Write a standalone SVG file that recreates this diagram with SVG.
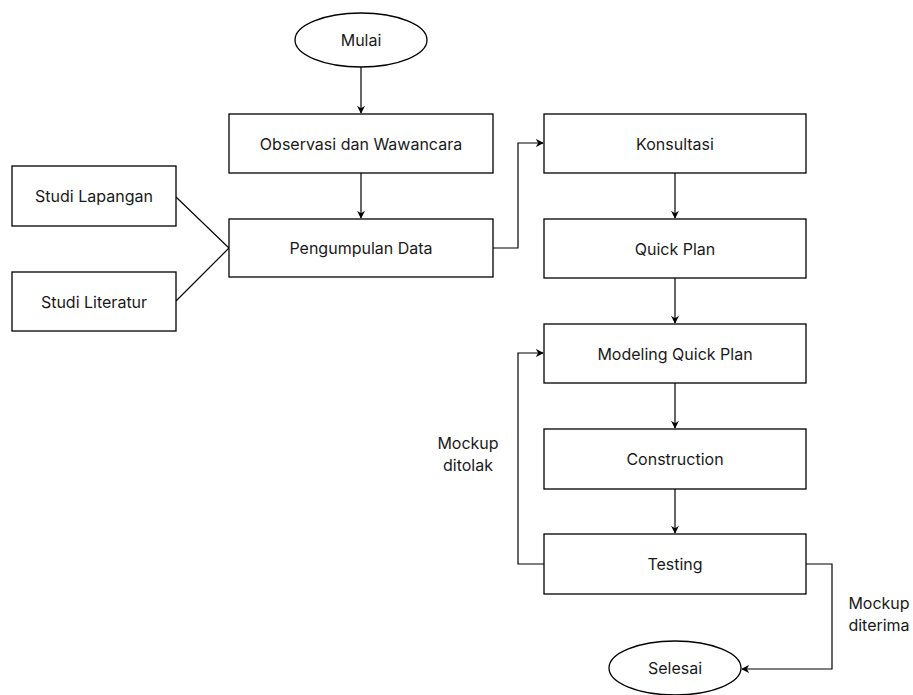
<svg xmlns="http://www.w3.org/2000/svg" width="913" height="695" viewBox="0 0 913 695">
<defs>
<style>
.n{fill:#fff;stroke:#000;stroke-width:1.3}
.t{font-family:Inter,"Liberation Sans",sans-serif;font-size:16px;fill:#1a1a1a;text-anchor:middle;dominant-baseline:central}
.c{fill:none;stroke:#000;stroke-width:1.2}
</style>
<marker id="a" viewBox="0 0 10 10" refX="9" refY="5" markerWidth="8" markerHeight="8" markerUnits="userSpaceOnUse" orient="auto"><path d="M0,0 L10,5 L0,10 L3,5 Z" fill="#000"/></marker>
</defs>
<rect width="913" height="695" fill="#fff"/>
<g id="connectors">
<path class="c" d="M361,67 V113" marker-end="url(#a)"/>
<path class="c" d="M361,173 V218" marker-end="url(#a)"/>
<path class="c" d="M176,197 L229,248 L176,301"/>
<path class="c" d="M493,248 H518 V143 H543" marker-end="url(#a)"/>
<path class="c" d="M675,173 V218" marker-end="url(#a)"/>
<path class="c" d="M675,278 V323" marker-end="url(#a)"/>
<path class="c" d="M675,383 V428" marker-end="url(#a)"/>
<path class="c" d="M675,489 V533" marker-end="url(#a)"/>
<path class="c" d="M544,564 H518 V353 H543" marker-end="url(#a)"/>
<path class="c" d="M806,564 H832 V669 H742" marker-end="url(#a)"/>
<text class="t" x="468" y="443">Mockup</text>
<text class="t" x="468" y="465">ditolak</text>
<text class="t" x="879" y="603">Mockup</text>
<text class="t" x="879" y="625">diterima</text>
</g>
<g id="mulai"><ellipse class="n" cx="361" cy="40" rx="66" ry="27"/><text class="t" x="361" y="40">Mulai</text></g>
<g id="observasi"><rect class="n" x="229" y="114" width="264" height="59"/><text class="t" x="361" y="143.5">Observasi dan Wawancara</text></g>
<g id="pengumpulan"><rect class="n" x="229" y="219" width="264" height="58"/><text class="t" x="361" y="248">Pengumpulan Data</text></g>
<g id="lapangan"><rect class="n" x="12" y="166" width="164" height="60"/><text class="t" x="94" y="196">Studi Lapangan</text></g>
<g id="literatur"><rect class="n" x="12" y="272" width="164" height="59"/><text class="t" x="94" y="301.5">Studi Literatur</text></g>
<g id="konsultasi"><rect class="n" x="544" y="114" width="262" height="59"/><text class="t" x="675" y="143.5">Konsultasi</text></g>
<g id="quickplan"><rect class="n" x="544" y="219" width="262" height="59"/><text class="t" x="675" y="248.5">Quick Plan</text></g>
<g id="modeling"><rect class="n" x="544" y="324" width="262" height="59"/><text class="t" x="675" y="353.5">Modeling Quick Plan</text></g>
<g id="construction"><rect class="n" x="544" y="429" width="262" height="60"/><text class="t" x="675" y="459">Construction</text></g>
<g id="testing"><rect class="n" x="544" y="534" width="262" height="60"/><text class="t" x="675" y="564">Testing</text></g>
<g id="selesai"><ellipse class="n" cx="675" cy="668" rx="66" ry="27"/><text class="t" x="675" y="668">Selesai</text></g>
</svg>
